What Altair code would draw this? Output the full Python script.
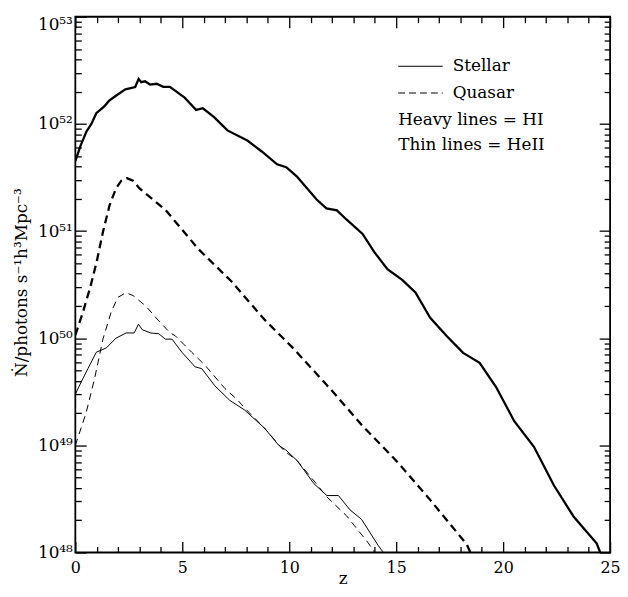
import altair as alt
import pandas as pd

# ---- data ----
z_stellar_hi = [0, 0.25, 0.52, 0.75, 0.98, 1.34, 1.57, 1.88, 2.34, 2.80, 2.96, 3.08, 3.26, 3.49,
                3.80, 4.11, 4.42, 5.11, 5.65, 5.96, 6.5, 7.11, 8.04, 8.73, 9.43, 9.86, 10.35,
                11.28, 11.74, 12.23, 12.66, 13.43, 13.97, 14.59, 15.28, 15.90, 16.59, 17.36,
                18.13, 18.9, 19.67, 20.52, 21.44, 22.37, 23.29, 24.37, 24.54]
n_stellar_hi = [4.5e51, 6.3e51, 8.5e51, 1.0e52, 1.26e52, 1.45e52, 1.64e52, 1.82e52, 2.1e52,
                2.21e52, 2.63e52, 2.45e52, 2.5e52, 2.33e52, 2.37e52, 2.22e52, 2.22e52, 1.76e52,
                1.35e52, 1.4e52, 1.15e52, 8.7e51, 7.0e51, 5.5e51, 4.2e51, 3.94e51, 3.24e51,
                1.97e51, 1.63e51, 1.56e51, 1.29e51, 9.4e50, 6.4e50, 4.4e50, 3.5e50, 2.67e50,
                1.55e50, 1.05e50, 7.3e49, 5.9e49, 3.5e49, 1.68e49, 9.7e48, 4.24e48, 2.17e48,
                1.22e48, 1.0e48]

z_quasar_hi = [0, 0.35, 0.7, 1.0, 1.3, 1.6, 1.9, 2.15, 2.4, 2.7, 3.0, 4.21, 5.75, 7.29, 8.83,
               10.2, 11.9, 13.45, 15.0, 16.53, 18.3, 18.47]
n_quasar_hi = [1.07e50, 1.74e50, 3.0e50, 5.2e50, 1.0e51, 1.74e51, 2.5e51, 2.95e51, 3.12e51,
               2.95e51, 2.5e51, 1.58e51, 6.8e50, 3.4e50, 1.5e50, 8.0e49, 3.4e49, 1.5e49,
               7.2e48, 3.2e48, 1.19e48, 1.0e48]

z_stellar_heii = [0, 0.3, 0.59, 0.98, 1.44, 1.9, 2.37, 2.75, 2.95, 3.13, 3.52, 3.9, 4.21, 4.52,
                  4.98, 5.6, 5.91, 6.52, 7.22, 7.91, 8.84, 9.53, 9.83, 10.37, 11.15, 11.76,
                  12.3, 12.84, 13.38, 14.15, 14.4]
n_stellar_heii = [3.0e49, 4.0e49, 5.2e49, 7.4e49, 8.1e49, 1.0e50, 1.12e50, 1.12e50, 1.35e50,
                  1.2e50, 1.12e50, 1.1e50, 9.8e49, 9.8e49, 7.4e49, 5.4e49, 5.2e49, 3.6e49,
                  2.63e49, 2.14e49, 1.45e49, 9.9e48, 9.1e48, 7.2e48, 4.4e48, 3.4e48, 3.4e48,
                  2.5e48, 2.04e48, 1.17e48, 1.0e48]

z_quasar_heii = [0, 0.5, 0.9, 1.29, 1.67, 1.98, 2.37, 2.7, 3.29, 3.9, 4.44, 4.68, 5.44, 6.06,
                 6.99, 7.6, 7.91, 8.84, 9.76, 10.37, 11.3, 11.76, 12.68, 13.69, 14.0]
n_quasar_heii = [1.0e49, 2.0e49, 4.2e49, 9.8e49, 1.74e50, 2.4e50, 2.66e50, 2.5e50, 2.0e50,
                 1.45e50, 1.12e50, 1.05e50, 7.4e49, 5.6e49, 3.4e49, 2.63e49, 2.24e49, 1.45e49,
                 8.9e48, 7.2e48, 4.3e48, 3.3e48, 2.2e48, 1.23e48, 1.0e48]

y_label_values = [1e48, 1e49, 1e50, 1e51, 1e52, 1e53]
x_label_values = [0, 5, 10, 15, 20, 25]

legend_entries = ["Stellar", "Quasar"]
legend_notes = ["Heavy lines = HI", "Thin lines = HeII"]

# ---- style ----
FONT = "DejaVu Serif"
W, H = 540, 541
ZMIN, ZMAX = 0.0, 25.0
NMIN, NMAX = 1e48, 1e53

xscale = alt.Scale(domain=[ZMIN, ZMAX], nice=False, zero=False)
yscale = alt.Scale(type="log", domain=[NMIN, NMAX], nice=False)

xaxis = alt.Axis(values=x_label_values, ticks=False, domain=False, grid=False,
                 labelFont=FONT, labelFontSize=16, labelColor="black", labelPadding=7,
                 labelFlush=False, title="z", titleFont=FONT, titleFontSize=17,
                 titleFontWeight="normal", titleColor="black", titleBaseline="alphabetic",
                 titleY=31)
yaxis = alt.Axis(values=y_label_values, ticks=False, domain=False, grid=False,
                 labelFont=FONT, labelFontSize=17, labelColor="black", labelPadding=3,
                 labelFlush=False,
                 labelBaseline={"condition": {"test": "datum.value > 5e52", "value": "top"},
                                "value": "middle"},
                 labelExpr="'10' + ['\u2074\u2078','\u2074\u2079','\u2075\u2070','\u2075\u00b9','\u2075\u00b2','\u2075\u00b3'][round(log(datum.value)/LN10) - 48]",
                 title="\u1e44/photons s\u207b\u00b9h\u00b3Mpc\u207b\u00b3", titleFont=FONT,
                 titleFontSize=17, titleFontWeight="normal", titleColor="black",
                 titleBaseline="alphabetic", titleX=-49, titleY=268, titleAngle=270)

dz = (ZMAX - ZMIN) / W    # z units per px
ddec = 5.0 / H            # decades per px


def px_to_z(px):
    return ZMIN + px * dz


def py_to_n(py):
    return NMAX / 10 ** (py * ddec)


def line_layer(z, n, width, dash=None, opacity=1.0, xax=xaxis, yax=yaxis):
    df = pd.DataFrame({"z": z, "N": n})
    kw = dict(color="black", strokeWidth=width, clip=True, opacity=opacity)
    if dash is not None:
        kw["strokeDash"] = dash
    return alt.Chart(df).mark_line(**kw).encode(
        x=alt.X("z:Q", scale=xscale, axis=xax),
        y=alt.Y("N:Q", scale=yscale, axis=yax),
        order="z:Q",
    )


lines = [
    line_layer(z_stellar_hi, n_stellar_hi, 2.3),
    line_layer(z_quasar_hi, n_quasar_hi, 2.3, [8, 5]),
    line_layer(z_stellar_heii, n_stellar_heii, 1.0),
    line_layer(z_quasar_heii, n_quasar_heii, 1.0, [7, 5]),
]

# ---- legend (inside the plot, top right), placed via the same scales ----
LX0, LX1, LTX = 326, 371, 381
ROWS = [50, 77, 104, 130]
leg_lines = [
    line_layer([px_to_z(LX0), px_to_z(LX1)], [py_to_n(ROWS[0])] * 2, 1.0),
    line_layer([px_to_z(LX0), px_to_z(LX1)], [py_to_n(ROWS[1])] * 2, 1.0, [7, 4]),
]
text_df = pd.DataFrame({
    "t": legend_entries + legend_notes,
    "z": [px_to_z(LTX), px_to_z(LTX), px_to_z(LX0), px_to_z(LX0)],
    "N": [py_to_n(r) for r in ROWS],
})
leg_text = alt.Chart(text_df).mark_text(
    font=FONT, fontSize=17, color="black", align="left", baseline="middle").encode(
    x=alt.X("z:Q", scale=xscale, axis=xaxis),
    y=alt.Y("N:Q", scale=yscale, axis=yaxis),
    text="t:N",
)

main = alt.layer(*lines, *leg_lines, leg_text)

# ---- inward tick marks: extra label-less axes moved onto the opposite frame edge ----
MAJ, MIN = 11, 6
y_major = [10.0 ** d for d in range(48, 54)]
y_minor = [m * 10.0 ** d for d in range(48, 53) for m in range(2, 10)]
x_major = [float(v) for v in range(0, 26, 5)]
x_minor = [float(v) for v in range(0, 26) if v % 5]


def tick_axis(vals, orient, offset, size):
    return alt.Axis(values=vals, orient=orient, offset=offset, labels=False, domain=False,
                    grid=False, ticks=True, tickSize=size, tickWidth=1.3, tickColor="black",
                    title="")


dummies = [
    # x ticks on bottom edge (top-oriented axis pushed down), y ticks on left edge
    line_layer(z_stellar_hi, n_stellar_hi, 1.0, opacity=0.0,
               xax=tick_axis(x_major, "top", -H, MAJ), yax=tick_axis(y_major, "right", -W, MAJ)),
    line_layer(z_stellar_hi, n_stellar_hi, 1.0, opacity=0.0,
               xax=tick_axis(x_minor, "top", -H, MIN), yax=tick_axis(y_minor, "right", -W, MIN)),
    # x ticks on top edge, y ticks on right edge
    line_layer(z_stellar_hi, n_stellar_hi, 1.0, opacity=0.0,
               xax=tick_axis(x_major, "bottom", -H, MAJ), yax=tick_axis(y_major, "left", -W, MAJ)),
    line_layer(z_stellar_hi, n_stellar_hi, 1.0, opacity=0.0,
               xax=tick_axis(x_minor, "bottom", -H, MIN), yax=tick_axis(y_minor, "left", -W, MIN)),
]

chart = alt.layer(main, *dummies).resolve_scale(x="independent", y="independent").properties(
    width=W, height=H,
    autosize=alt.AutoSizeParams(type="none"),
    padding={"left": 68, "top": 6, "right": 10, "bottom": 34},
).configure_view(stroke="black", strokeWidth=1.8)

chart.save("out.html", embed_options={"renderer": "svg", "actions": False})
